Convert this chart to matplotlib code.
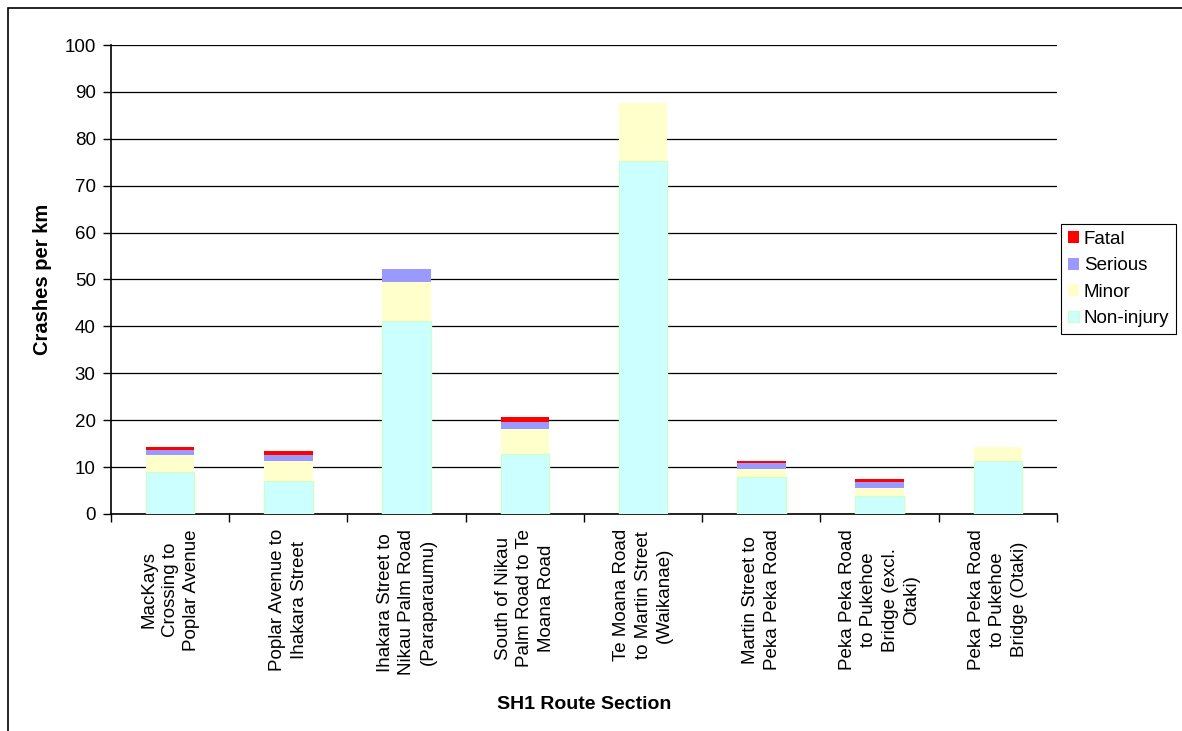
import numpy as np
import matplotlib.pyplot as plt
from matplotlib.patches import Rectangle

plt.rcParams['font.family'] = ['Liberation Sans', 'DejaVu Sans']

sections = [
    "MacKays\nCrossing to\nPoplar Avenue",
    "Poplar Avenue to\nIhakara Street",
    "Ihakara Street to\nNikau Palm Road\n(Paraparaumu)",
    "South of Nikau\nPalm Road to Te\nMoana Road",
    "Te Moana Road\nto Martin Street\n(Waikanae)",
    "Martin Street to\nPeka Peka Road",
    "Peka Peka Road\nto Pukehoe\nBridge (excl.\nOtaki)",
    "Peka Peka Road\nto Pukehoe\nBridge (Otaki)",
]

non_injury = [9.0, 7.0, 41.1, 12.8, 75.3, 7.95, 3.85, 11.3]
minor = [3.5, 4.3, 8.4, 5.25, 12.3, 1.7, 1.75, 3.05]
serious = [1.2, 1.35, 2.7, 1.65, 0.0, 1.15, 1.15, 0.0]
fatal = [0.6, 0.75, 0.0, 0.9, 0.0, 0.5, 0.65, 0.0]

fs = 13.5

fig = plt.figure(figsize=(11.82, 7.31), dpi=100)
ax = fig.add_axes([0.0939, 0.2969, 0.8003, 0.6415])

x = np.arange(len(sections))
w = 0.41

b0 = np.zeros(len(sections))
ax.bar(x, non_injury, w, bottom=b0, color="#CCFFFF", edgecolor="#CCFFCC", linewidth=1, label="Non-injury", zorder=3)
b1 = b0 + np.array(non_injury)
ax.bar(x, minor, w, bottom=b1, color="#FFFFCC", linewidth=0, label="Minor", zorder=3)
b2 = b1 + np.array(minor)
ax.bar(x, serious, w, bottom=b2, color="#9999FF", linewidth=0, label="Serious", zorder=3)
b3 = b2 + np.array(serious)
ax.bar(x, fatal, w, bottom=b3, color="#FF0000", linewidth=0, label="Fatal", zorder=3)

ax.set_xlim(-0.5, len(sections) - 0.5)
ax.set_ylim(0, 100)
ax.set_yticks(np.arange(0, 101, 10))
ax.yaxis.grid(True, color="black", linewidth=0.9, zorder=0)
ax.set_axisbelow(True)

ax.set_xticks(x)
ax.set_xticklabels(sections, rotation=90, ha="center", va="top", fontsize=fs, linespacing=1.35)
ax.tick_params(axis="x", which="major", length=0, pad=11)
ax.set_xticks(np.arange(-0.5, len(sections), 1.0), minor=True)
ax.tick_params(axis="x", which="minor", length=6, width=1, color="black")
ax.tick_params(axis="y", length=6, width=1, labelsize=fs, pad=5)

for s in ["top", "right"]:
    ax.spines[s].set_visible(False)
for s in ["left", "bottom"]:
    ax.spines[s].set_linewidth(1.2)
    ax.spines[s].set_color("black")

ax.set_ylabel("Crashes per km", fontsize=14.5, fontweight="bold", labelpad=9)
ax.set_xlabel("SH1 Route Section", fontsize=14, fontweight="bold", labelpad=15)

handles, labels = ax.get_legend_handles_labels()
leg = fig.legend(handles[::-1], labels[::-1], loc="upper left",
                 bbox_to_anchor=(0.898, 0.693), fontsize=fs,
                 handlelength=0.6, handleheight=0.6, handletextpad=0.25,
                 borderpad=0.35, labelspacing=0.5, fancybox=False,
                 edgecolor="black", framealpha=1, borderaxespad=0)
leg.get_frame().set_linewidth(0.8)

fig.patches.append(Rectangle((8 / 1182, -0.1), 1.2, 1 - 8 / 731 + 0.1,
                             transform=fig.transFigure, fill=False,
                             edgecolor="black", linewidth=1.2))

fig.savefig("out.png", dpi=100)
